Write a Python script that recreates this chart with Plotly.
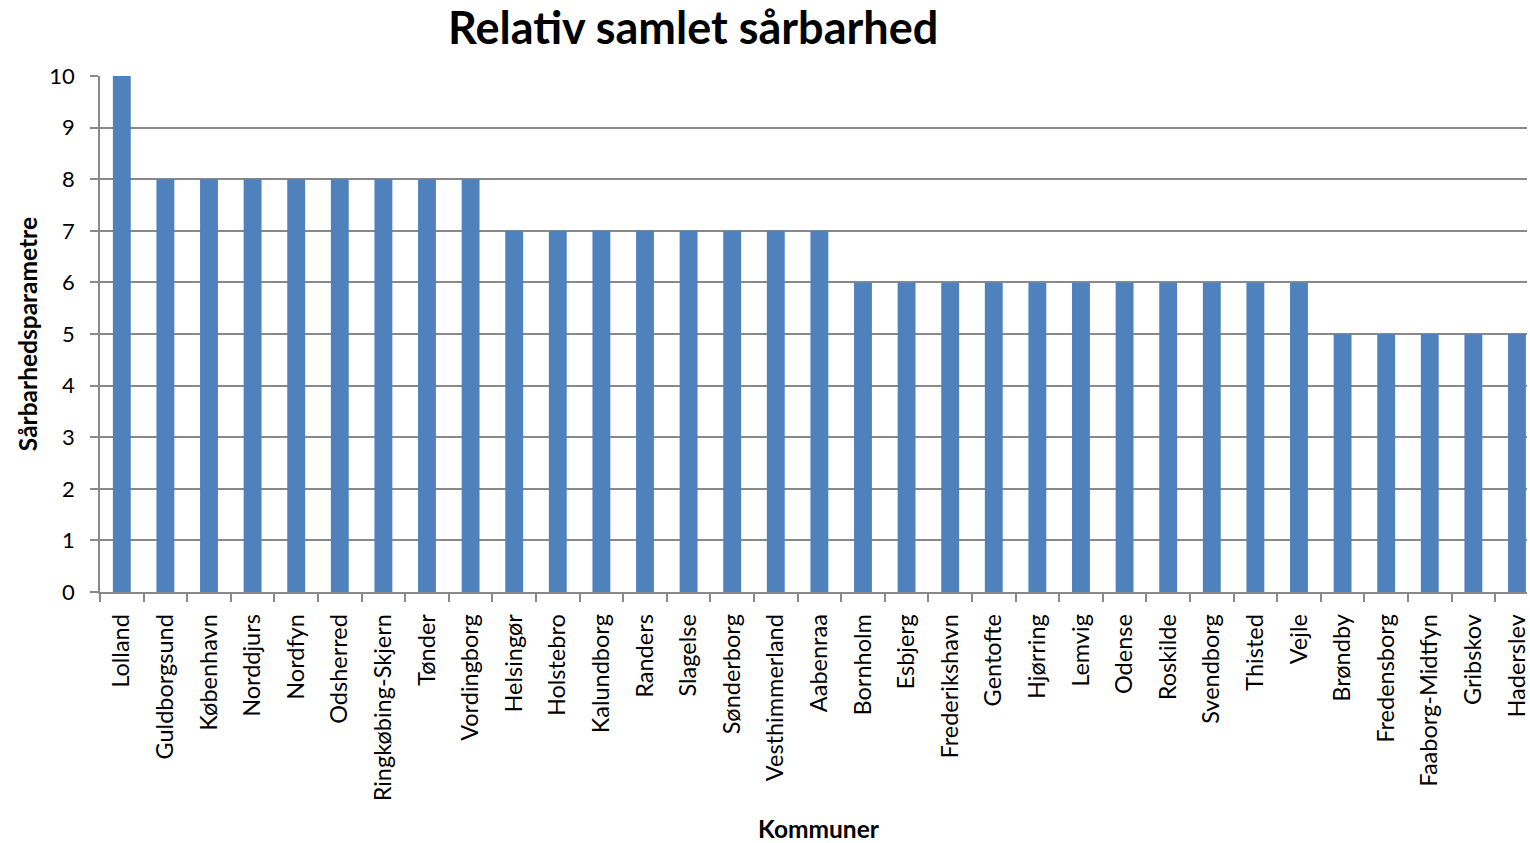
import plotly.graph_objects as go

kommuner = ["Lolland", "Guldborgsund", "København", "Norddjurs", "Nordfyn", "Odsherred",
            "Ringkøbing-Skjern", "Tønder", "Vordingborg", "Helsingør", "Holstebro",
            "Kalundborg", "Randers", "Slagelse", "Sønderborg", "Vesthimmerland", "Aabenraa",
            "Bornholm", "Esbjerg", "Frederikshavn", "Gentofte", "Hjørring", "Lemvig",
            "Odense", "Roskilde", "Svendborg", "Thisted", "Vejle", "Brøndby", "Fredensborg",
            "Faaborg-Midtfyn", "Gribskov", "Haderslev"]
vaerdier = [10, 8, 8, 8, 8, 8, 8, 8, 8, 7, 7, 7, 7, 7, 7, 7, 7,
            6, 6, 6, 6, 6, 6, 6, 6, 6, 6, 6, 5, 5, 5, 5, 5]
y_ticks = [0, 1, 2, 3, 4, 5, 6, 7, 8, 9, 10]

FONT = "Lato"
GRID = "#898989"
W, H = 1530, 843
L, R, T, B = 100, 0, 76, 251

fig = go.Figure(go.Bar(x=kommuner, y=vaerdier, marker=dict(color="#4F81BD", line=dict(width=0))))

def px_x(p):
    return (p - L) / (W - L - R)

def px_y(p):
    return 1 - (p - T) / (H - T - B)

fig.update_layout(
    width=W, height=H,
    margin=dict(l=L, r=R, t=T, b=B, pad=0),
    paper_bgcolor="white", plot_bgcolor="white",
    bargap=0.59,
    showlegend=False,
    font=dict(family=FONT, color="black", size=22),
    xaxis=dict(type="category", range=[-0.5, 32.23], tickangle=-90,
               ticks="outside", tickson="boundaries", ticklen=8, tickcolor=GRID, tickwidth=1.5,
               showline=True, linecolor=GRID, linewidth=1.5, showgrid=False,
               ticklabelstandoff=11, tickfont=dict(size=23.5, family=FONT)),
    yaxis=dict(range=[0, 10], tickvals=y_ticks, ticks="outside", ticklen=8, tickcolor=GRID,
               tickwidth=1.5, showline=True, linecolor=GRID, linewidth=1.5,
               showgrid=True, gridcolor=GRID, gridwidth=1.5, zeroline=False,
               ticklabelstandoff=11, tickfont=dict(size=22, family=FONT)),
    annotations=[
        dict(text="<b>Relativ samlet sårbarhed</b>", xref="paper", yref="paper",
             x=px_x(694), y=px_y(27), xanchor="center", yanchor="middle", showarrow=False,
             font=dict(size=45, family=FONT, color="black")),
        dict(text="<b>Kommuner</b>", xref="paper", yref="paper",
             x=px_x(821), y=px_y(828), xanchor="center", yanchor="middle", showarrow=False,
             font=dict(size=24.5, family=FONT, color="black")),
        dict(text="<b>Sårbarhedsparametre</b>", xref="paper", yref="paper", textangle=-90,
             x=px_x(27), y=px_y(334), xanchor="center", yanchor="middle", showarrow=False,
             font=dict(size=24.5, family=FONT, color="black")),
    ],
)

fig.write_html("out.html", config={"displayModeBar": False},
               post_script="document.body.style.margin='0';document.body.style.overflow='hidden';")
